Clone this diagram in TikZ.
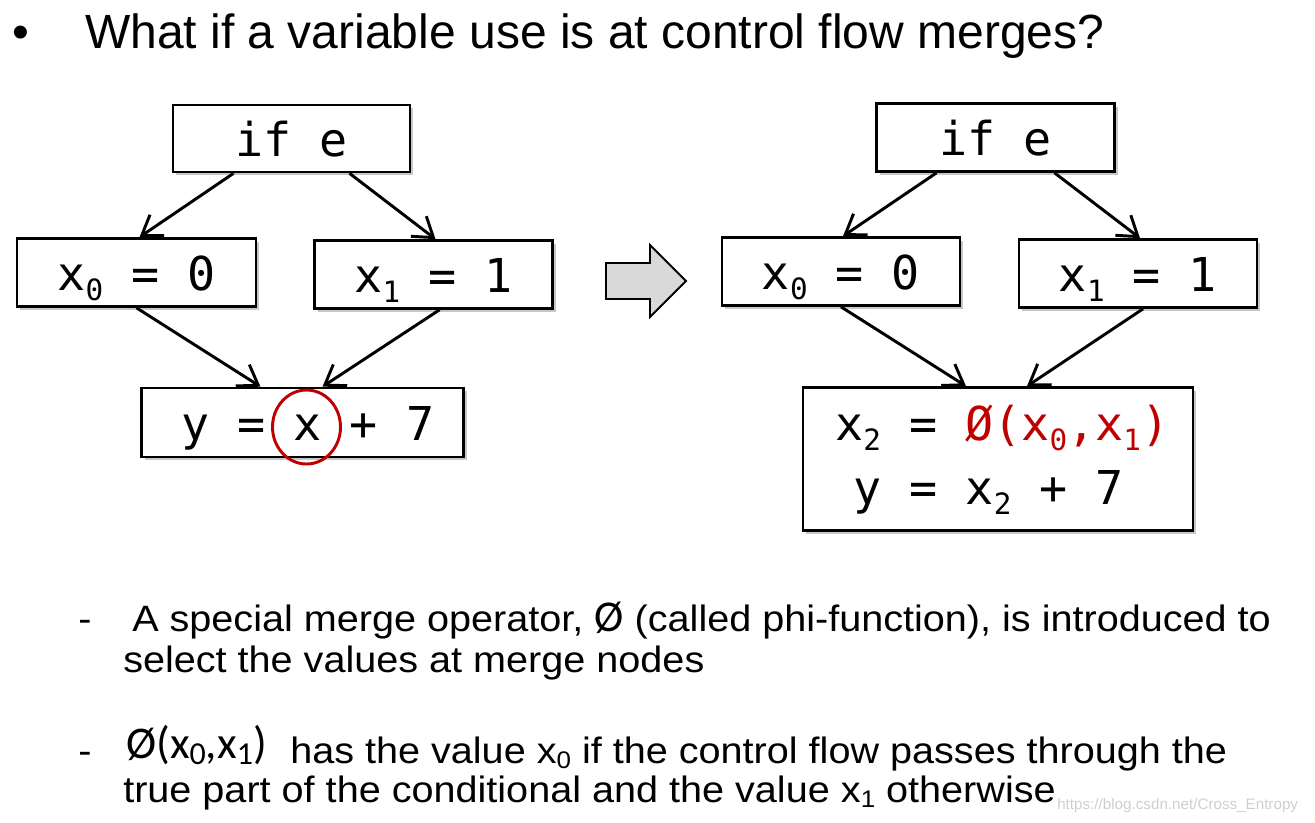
\documentclass[tikz,border=0pt]{standalone}
\usepackage{fontspec}
\setmainfont{Liberation Sans}
\newfontfamily\notefont[FakeStretch=1.08]{Liberation Sans}
\newfontfamily\codefont{DejaVu Sans Mono}
\newfontfamily\calfont{Carlito}
\usetikzlibrary{arrows.meta,shadows,calc}
\definecolor{phired}{HTML}{C00000}
\definecolor{arrowgray}{HTML}{D9D9D9}
\definecolor{markgray}{HTML}{CFCFCF}
% lowered index in the current family, optional size in pt
\newcommand\lowidx[2][22]{\raisebox{-0.22em}{\fontsize{#1}{#1}\selectfont #2}}
% smaller drop for indices inside running text
\newcommand\noteidx[2][18]{\raisebox{-0.14em}{\fontsize{#1}{#1}\selectfont #2}}

\begin{document}
\begin{tikzpicture}[x=0.75pt,y=-0.75pt,
  wh/.style 2 args={minimum width=#1*0.75pt, minimum height=#2*0.75pt},
  blk/.style={draw=black, line width=2pt, fill=white, inner sep=0pt,
    drop shadow={shadow xshift=2.5pt, shadow yshift=-2.5pt, opacity=0.22, fill=black},
    text height=27pt, text depth=0pt,
    font=\codefont\fontsize{35}{40}\selectfont},
  codetxt/.style={anchor=base west, inner sep=0pt, font=\codefont\fontsize{35}{40}\selectfont},
  flow/.style={line width=2.2pt, -{Straight Barb[length=14pt,width=19pt,line width=2.2pt]}},
  txt/.style={anchor=base west, inner sep=0pt, font=\notefont\fontsize{27.5}{28}\selectfont},
]
\useasboundingbox (0,0) rectangle (1315,822);

% heading
\node[anchor=base west, inner sep=0pt, font=\fontsize{36}{36}\selectfont] (dot) at (12,48) {•};
\node[anchor=base west, inner sep=0pt, font=\fontsize{36}{36}\selectfont] (ttl) at (85,48)
  {What if a variable use is at control flow merges?};

% ---- left graph ----
\node[blk, wh={237}{67}] (ifL) at (291.5,138.5) {if e};
\node[blk, wh={239}{68}] (x0L) at (136.5,272.5) {x\lowidx{0} = 0};
\node[blk, wh={238}{68}] (x1L) at (433.5,274.5) {x\lowidx{1} = 1};
\node[blk, wh={322}{69}] (yL)  at (302.5,422.5) {\hspace*{8pt}y = x + 7};
\draw[phired, line width=2.2pt] ($(yL.center)+(4,4.5)$) ellipse [x radius=34, y radius=37];

\draw[flow] ($(ifL.south)+(-58,0)$) -- ($(x0L.north)+(3,0)$);
\draw[flow] ($(ifL.south)+(58,0)$)  -- ($(x1L.north)+(2,0)$);
\draw[flow] (x0L.south) -- ($(yL.north)+(-42,0)$);
\draw[flow] ($(x1L.south)+(6,0)$) -- ($(yL.north)+(20,0)$);

% ---- transformation arrow ----
\draw[line width=1.4pt, fill=arrowgray]
  (606,263) -- (650,263) -- (650,245) -- (686,281) -- (650,317) -- (650,299) -- (606,299) -- cycle;

% ---- right graph ----
\node[blk, wh={238}{68}] (ifR) at (995.5,137.5) {if e};
\node[blk, wh={238}{68}] (x0R) at (841,271.5) {x\lowidx{0} = 0};
\node[blk, wh={238}{68}] (x1R) at (1138,273.5) {x\lowidx{1} = 1};
\node[blk, wh={390}{143}] (phiR) at (998,459) {};
\node[codetxt] (phi1) at ($(phiR.center)+(-163,-19)$)
  {x\lowidx{2} = \textcolor{phired}{Ø(x\lowidx{0},x\lowidx{1})}};
\node[codetxt] (phi2) at ($(phiR.center)+(-145,45)$) {y = x\lowidx{2} + 7};

\draw[flow] ($(ifR.south)+(-59,0)$) -- ($(x0R.north)+(2,0)$);
\draw[flow] ($(ifR.south)+(59,0)$)  -- ($(x1R.north)+(2,0)$);
\draw[flow] (x0R.south) -- ($(phiR.north)+(-32,0)$);
\draw[flow] ($(x1R.south)+(5,0)$) -- ($(phiR.north)+(29,0)$);

% ---- notes ----
\node[txt] (d1) at (78,631) {-};
\node[txt] (n1) at (132,631)
  {A special merge operator, {\calfont\fontsize{33}{33}\selectfont Ø} (called phi-function), is introduced to};
\node[txt] (n2) at (123,672) {select the values at merge nodes};
\node[txt] (d2) at (78,763) {-};
\node[txt, font=\calfont\fontsize{34}{34}\selectfont] (phiexp) at (126,758)
  {Ø(x\noteidx[24]{0},x\noteidx[24]{1})};
\node[txt] (n3) at (290,763) {has the value x\noteidx{0} if the control flow passes through the};
\node[txt] (n4) at (123,802) {true part of the conditional and the value x\noteidx{1} otherwise};
\node[anchor=base west, inner sep=0pt, text=markgray, font=\fontsize{11.4}{12}\selectfont] (wm) at (1057,809)
  {https://blog.csdn.net/Cross\_Entropy};
\end{tikzpicture}
\end{document}
